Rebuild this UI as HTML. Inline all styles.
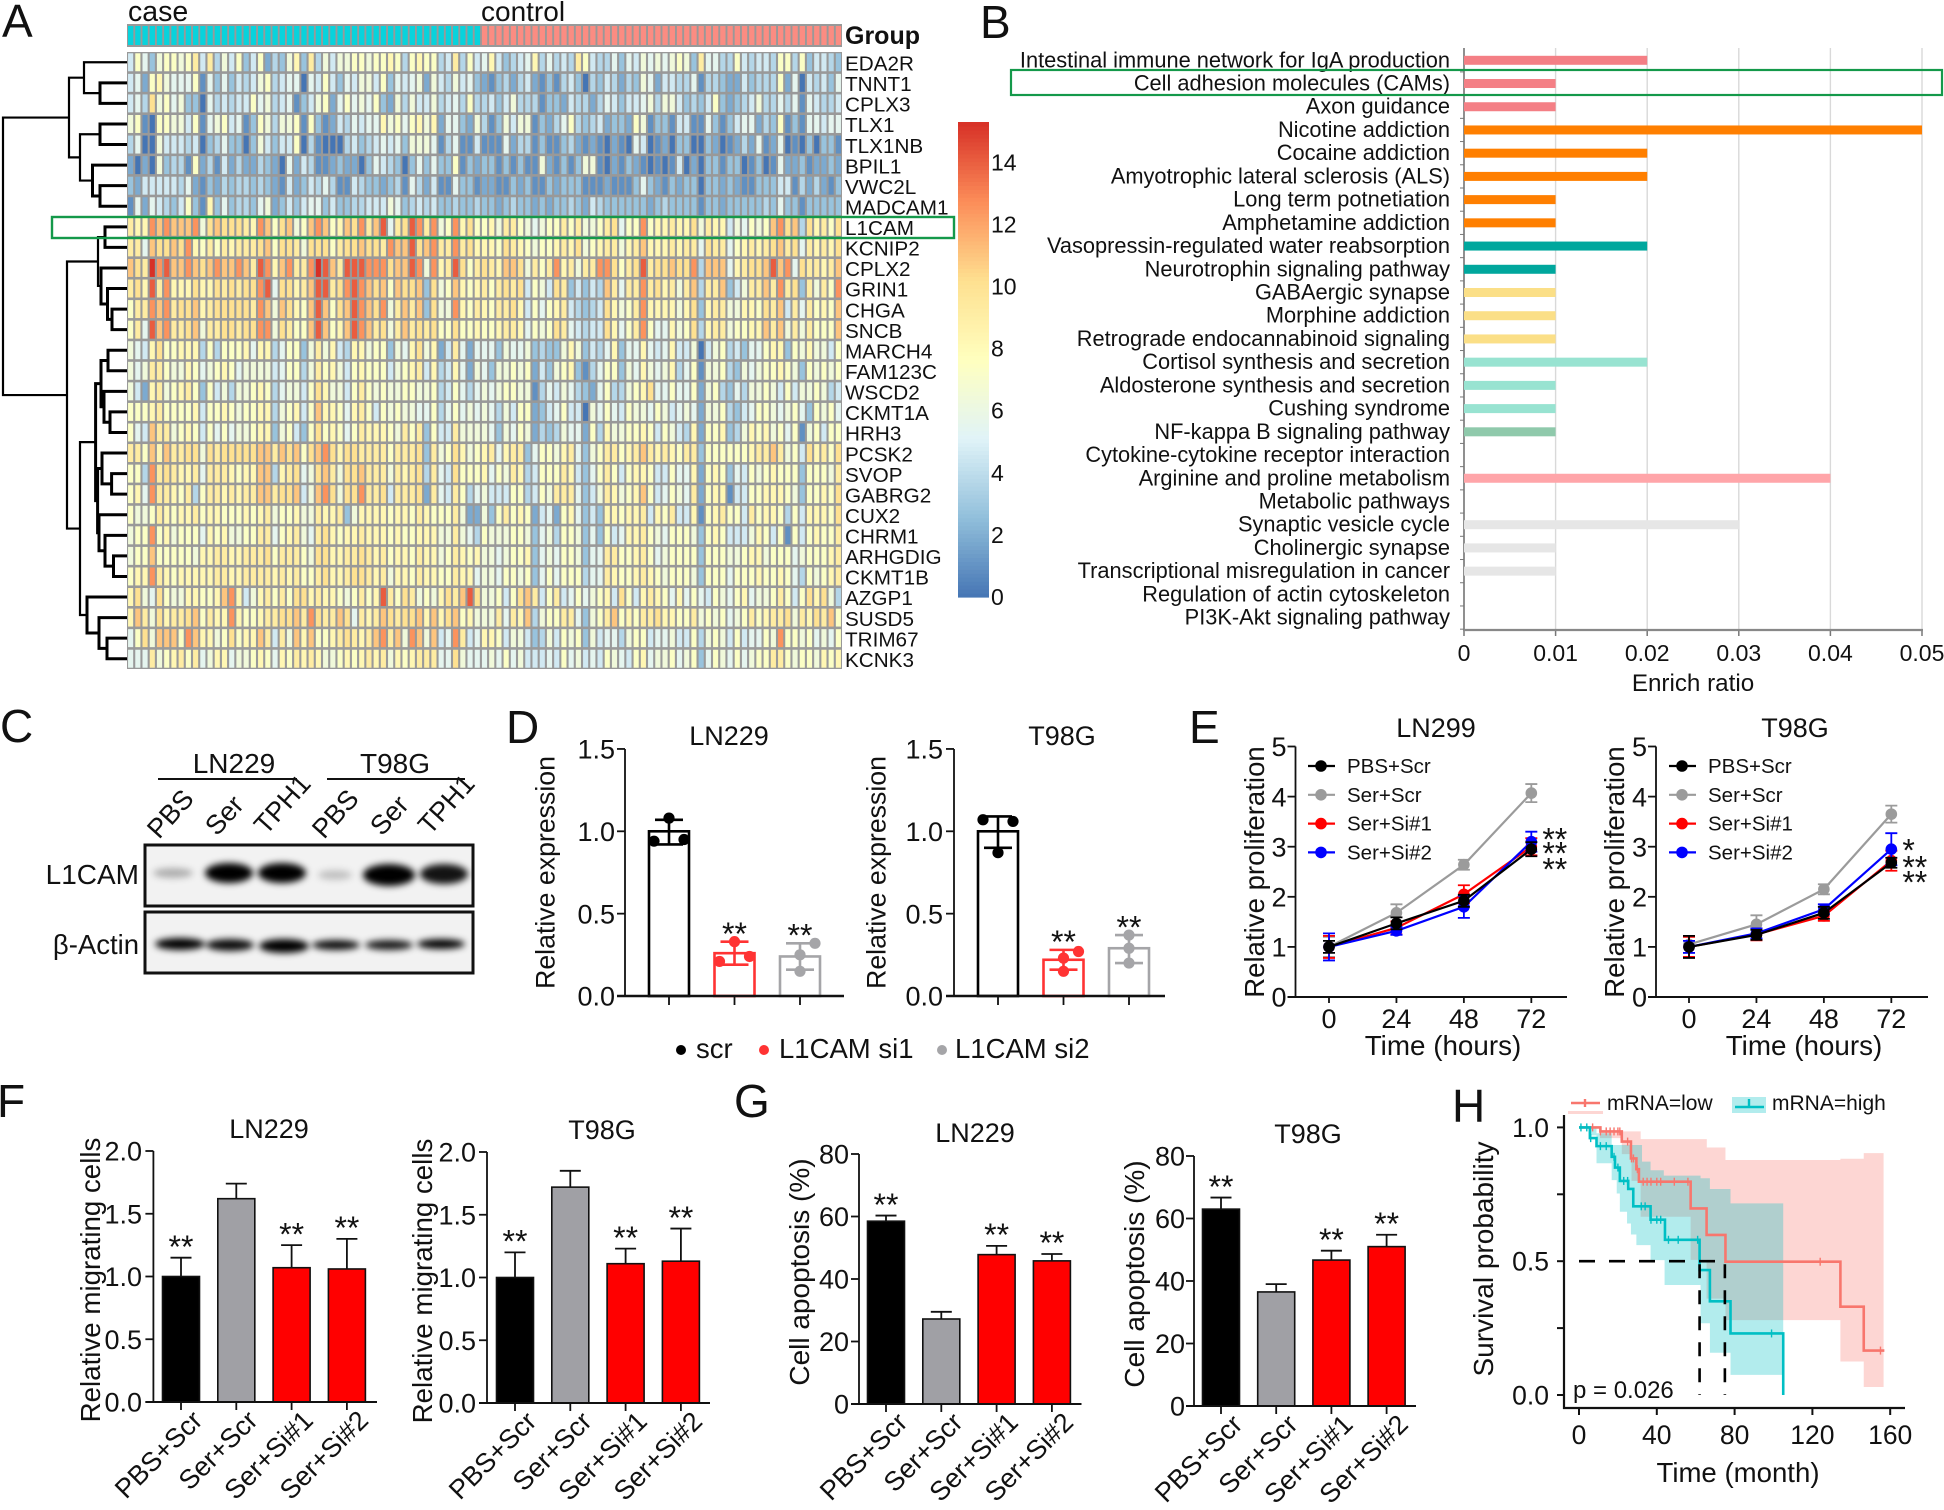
<!DOCTYPE html>
<html lang="en">
<head>
<meta charset="utf-8">
<title>L1CAM multi-panel figure</title>
<style>
html,body{margin:0;padding:0;background:#fff;}
svg{display:block;font-family:"Liberation Sans",sans-serif;}
</style>
</head>
<body>
<svg id="fig" xmlns="http://www.w3.org/2000/svg" width="1944" height="1510" viewBox="0 0 1944 1510">
  <defs>
    <filter id="band-blur" x="-40%" y="-80%" width="180%" height="260%"><feGaussianBlur stdDeviation="3.4"/></filter>
    <clipPath id="blot-clip-top"><rect x="145" y="845" width="328" height="61"/></clipPath>
    <clipPath id="blot-clip-bottom"><rect x="145" y="912" width="328" height="61"/></clipPath>
  </defs>
  <rect width="1944" height="1510" fill="#fff"/>

  <g font-size="46" fill="#111">
    <text x="2" y="37">A</text>
    <text x="980" y="38">B</text>
    <text x="0" y="742">C</text>
    <text x="506" y="743">D</text>
    <text x="1189" y="743">E</text>
    <text x="-3" y="1117">F</text>
    <text x="734" y="1117">G</text>
    <text x="1452" y="1122">H</text>
  </g>

  <g id="panel-a">
    <text x="128" y="21" font-size="28.5" fill="#111">case</text>
    <text x="481" y="21" font-size="28" fill="#111">control</text>
    <text x="845" y="44" font-size="25" font-weight="bold" fill="#111">Group</text>
  </g>
  <g id="panel-b"></g>

  <g id="panel-c">
    <text x="234" y="773" font-size="28" text-anchor="middle" fill="#111">LN229</text>
    <text x="395" y="773" font-size="28" text-anchor="middle" fill="#111">T98G</text>
    <line x1="158" x2="297" y1="779" y2="779" stroke="#111" stroke-width="2"/>
    <line x1="327" x2="465" y1="779" y2="779" stroke="#111" stroke-width="2"/>
    <g font-size="27" fill="#111">
      <text transform="translate(159,840) rotate(-48)">PBS</text>
      <text transform="translate(217,837) rotate(-48)">Ser</text>
      <text transform="translate(266,836) rotate(-48)">TPH1</text>
      <text transform="translate(324,840) rotate(-48)">PBS</text>
      <text transform="translate(382,837) rotate(-48)">Ser</text>
      <text transform="translate(430,836) rotate(-48)">TPH1</text>
    </g>
    <text x="139" y="884" font-size="28" text-anchor="end" fill="#111">L1CAM</text>
    <text x="139" y="954" font-size="27.5" text-anchor="end" fill="#111">β-Actin</text>
    <rect x="145" y="845" width="328" height="61" fill="#f2f2f2"/>
    <g clip-path="url(#blot-clip-top)" filter="url(#band-blur)" fill="#000">
      <ellipse cx="173" cy="873" rx="20" ry="5" opacity=".28"/>
      <ellipse cx="229" cy="873" rx="24" ry="10"/>
      <ellipse cx="282" cy="873" rx="24" ry="10"/>
      <ellipse cx="335" cy="875" rx="17" ry="5" opacity=".2"/>
      <ellipse cx="389" cy="875" rx="26" ry="11"/>
      <ellipse cx="444" cy="874" rx="24" ry="10" opacity=".92"/>
    </g>
    <rect x="145" y="845" width="328" height="61" fill="none" stroke="#111" stroke-width="3"/>
    <rect x="145" y="912" width="328" height="61" fill="#f2f2f2"/>
    <g clip-path="url(#blot-clip-bottom)" filter="url(#band-blur)" fill="#000">
      <ellipse cx="180" cy="944" rx="25" ry="6"/>
      <ellipse cx="230" cy="945" rx="24" ry="6" opacity=".95"/>
      <ellipse cx="284" cy="946" rx="25" ry="7"/>
      <ellipse cx="336" cy="945" rx="24" ry="5" opacity=".95"/>
      <ellipse cx="389" cy="945" rx="24" ry="5" opacity=".9"/>
      <ellipse cx="441" cy="944" rx="24" ry="5"/>
    </g>
    <rect x="145" y="912" width="328" height="61" fill="none" stroke="#111" stroke-width="3"/>
  </g>

  <g id="panel-d">
    <circle cx="681" cy="1050" r="5" fill="#000"/>
    <text x="696" y="1058" font-size="27.5" fill="#111">scr</text>
    <circle cx="764" cy="1050" r="5" fill="#f33"/>
    <text x="779" y="1058" font-size="27.5" fill="#111">L1CAM si1</text>
    <circle cx="942" cy="1050" r="5" fill="#a5a5a8"/>
    <text x="955" y="1058" font-size="27.5" fill="#111">L1CAM si2</text>
  </g>
  <g id="panel-e"></g>
  <g id="panel-f"></g>
  <g id="panel-g"></g>
  <g id="panel-h"></g>
</svg>

<script>
/* ---------- Panel A data ---------- */
const geneNames = ["EDA2R","TNNT1","CPLX3","TLX1","TLX1NB","BPIL1","VWC2L","MADCAM1","L1CAM","KCNIP2","CPLX2","GRIN1","CHGA","SNCB","MARCH4","FAM123C","WSCD2","CKMT1A","HRH3","PCSK2","SVOP","GABRG2","CUX2","CHRM1","ARHGDIG","CKMT1B","AZGP1","SUSD5","TRIM67","KCNK3"];
const caseCount = 49;
const controlCount = 50;
const colorbarTicks = [0,2,4,6,8,10,12,14];
const colorbarMax = 15.3;
/* one hex digit per sample: estimated expression level, 0 to 15 */
const expressionRows = [
"586378878a5a4758358243793a4757788 78898489884 5a485695345 69464 54a854 46365767678 73a66448545 54884835543",
"56289766681 63635457845 66065853657 75836567275 47563213424 52131453043 54243762554 46144322534 44826054536",
"564b7867330 64545586745 61357826867 68327475574 56484453574 44133254424 65355674775 34358323457 44646165445",
"78108877581 67856138747 78183125465 66978689792 66327413757 71324684345 23328713315 51163135662 43813166566",
"46007555450 34633037535 58041000453 45656377761 46115111624 41311342121 02106501203 30032012426 12601030331",
"20207344182 41524224320 62541123220 36543036363 38132331313 11721313771 02132101015 02033133013 01622312232",
"32555554621 32434434321 52354641154 33234164251 16331221132 31132333111 21113632132 33033232113 33551424213",
"16265435831 93634436723 53566353344 55576345453 34334332343 32323343254 33333323433 33133233333 43633133333",
"a99dcdcccd7 bcbbba9dc8b c78cdc89cbd ace6abedad7 8d9b8897aa8 76788a8a778 ab688d899a9 9b7a9957687 8cdbc4b9a8b",
"aa6cbbcbd98 a8a9aaabc8b ba7bbb8abbc bbadccebcda adab9998ba9 87889a9b789 aa79ac999a9 aa6baa689a9 abcab6a9a9b",
"cbafdeccdcb cdccdcaed9c daadfecaeee dddbcced7d9 aeb8aba9ccb 7a8ad9a7aad db8abeabbcb bd4ccc69abb cecd6baa9ac",
"ab9ead999b9 9bababbde6b b9aceeabded cbc8cbbc3b7 8c989a8abab 5875ba35354 ca6aadab9a7 ac4aac357aa cadab3a7a8d",
"8aadcdabbc9 abbbbbadc7c b98cec8bced cbd7acac3b7 7d98a98aab9 58689a54345 b978ad99997 9b39aa77998 bac5a6a898c",
"8a6ecdaabc7 aabbabbdd7b a88cec89ced cab7acabab8 8b889889aa9 6878ba65455 b968ad86697 8b49aa78899 cac7a7a888c",
"7659b889994 84888969946 8837a795499 7883769b792 5a626663766 73433797354 69366965695 57057845366 89938797758",
"767aa877986 78986777756 8847a897589 8885789a594 59627637787 82537893146 88376976794 68177843767 88987387878",
"7529a789a83 85747789846 7758b97758a 87877887784 58646767887 71465764326 844789b6686 68278436477 87585778745",
"8889a888895 88987889947 8958c99869a 85878776684 68676764758 82356855076 86587768756 76277843568 87678638786",
"865caa78985 86867789937 8538b89868a 99987a8a385 5a777763768 72434766284 97788985875 49288934798 97868178588",
"aa8c9caabb7 babbbbbccac bc8bcdb9bba aaa8aaab3a7 8b9789a69aa 368879a6378 aa89aca9a98 aa38888889a aca785b9a8b",
"884daba99a6 aaa9899cc49 ab67bca7bbc aaa7a9ab4a6 5b8889687a9 45888a95368 a8589985586 69289836587 8988838887a",
"896daa98a48 aa9a9aaccab bc57cdb7bbd aab5aaab2a6 5a846755588 4587aaa6357 a9789c85687 6a289915588 9998738898b",
"8778a9899a8 99888989a78 8977a99a379 9998998a988 8a722738a89 82562896353 99899a598a5 59189a885a8 9984859998b",
"788d8978886 9897788aa68 9a76ab9899a 99989889997 7a764877788 73674887363 85699a87688 87389855579 8581858988a",
"788c8888879 9aa99aaab8a aa87bb99aab a9a8998a997 8a989776788 93676887366 aa889a86788 88388877899 7888678889a",
"899da989999 9aa99aaaa9a 9a88ab99abb a9a7998a998 8a996776887 83686888466 a9889a98788 87388868889 8898648789a",
"9b76b877998 89cd9579a8a 8bb9a99878a 89ea8ba7879 baceb77858b ca58a568678 95b859a9869 68658768967 78a858b9b74",
"9ca7b9aabc8 a99d9889aab bcadbaacb6a 9acbabbc9c9 bc89777a6a9 c4788aa6378 ac898aab998 8a7878678a8 9aab7a9bac8",
"68b7ccc8dc9 978b899ca5a 7c9c889aba9 acdac7dc7c5 6da56998577 53475878375 66478856675 58478758566 87d88786768",
"666a789a8a6 79967789869 8a9a9778989 a9a7989aaa6 6b766676867 55565867565 87658967786 78368768678 8aa87887989"
];
/* dendrogram: [merge distance, left child, right child]; integers at leaves are gene rows */
const geneTree = [124,
  [58,[43,0,[27,1,2]],[47,[27,3,4],[34.5,5,[27,6,7]]]],
  [60,
    [29,[22,8,9],[26,10,[19.5,11,[15,12,13]]]],
    [47,
      [31.4,[26,[19,14,15],[23,16,[17,17,18]]],[29.4,[25,19,[15.4,20,21]],[28,22,[22,23,[13.5,24,25]]]]],
      [40,26,[28,27,[20,28,29]]]
    ]
  ]
];

/* ---------- Panel B data ---------- */
const pathwayNames = ["Intestinal immune network for IgA production","Cell adhesion molecules (CAMs)","Axon guidance","Nicotine addiction","Cocaine addiction","Amyotrophic lateral sclerosis (ALS)","Long term potnetiation","Amphetamine addiction","Vasopressin-regulated water reabsorption","Neurotrophin signaling pathway","GABAergic synapse","Morphine addiction","Retrograde endocannabinoid signaling","Cortisol synthesis and secretion","Aldosterone synthesis and secretion","Cushing syndrome","NF-kappa B signaling pathway","Cytokine-cytokine receptor interaction","Arginine and proline metabolism","Metabolic pathways","Synaptic vesicle cycle","Cholinergic synapse","Transcriptional misregulation in cancer","Regulation of actin cytoskeleton","PI3K-Akt signaling pathway"];
const enrichRatios = [0.02,0.01,0.01,0.05,0.02,0.02,0.01,0.01,0.02,0.01,0.01,0.01,0.01,0.02,0.01,0.01,0.01,0,0.04,0,0.03,0.01,0.01,0,0];
const pathwayGroups = [0,0,0,1,1,1,1,1,2,2,3,3,3,4,4,4,5,6,7,8,9,9,9,9,9];
const enrichTicks = [0,0.01,0.02,0.03,0.04,0.05];

/* ---------- Panel D data ---------- */
const knockdownGroups = ["scr","L1CAM si1","L1CAM si2"];
const expressionTicks = [0,0.5,1,1.5];
const ln229ExprMeans = [1.0,0.26,0.24];
const ln229ExprLow = [0.92,0.19,0.16];
const ln229ExprHigh = [1.07,0.33,0.32];
const ln229ExprPoints = [[1.08,0.94,0.95],[0.33,0.21,0.24],[0.25,0.32,0.15]];
const t98gExprMeans = [1.0,0.22,0.29];
const t98gExprLow = [0.9,0.16,0.2];
const t98gExprHigh = [1.09,0.28,0.37];
const t98gExprPoints = [[0.87,1.07,1.06],[0.23,0.15,0.27],[0.29,0.37,0.2]];

/* ---------- Panel E data ---------- */
const timeHours = [0,24,48,72];
const proliferationTicks = [0,1,2,3,4,5];
const treatmentNames = ["Ser+Scr","Ser+Si#1","Ser+Si#2","PBS+Scr"];
const legendOrder = ["PBS+Scr","Ser+Scr","Ser+Si#1","Ser+Si#2"];
const ln299Means = [[1.0,1.68,2.64,4.07],[1.0,1.38,2.05,3.0],[1.0,1.32,1.8,3.1],[1.0,1.47,1.92,2.95]];
const ln299Errors = [[0.2,0.17,0.1,0.18],[0.22,0.13,0.18,0.17],[0.27,0.08,0.22,0.2],[0.12,0.12,0.12,0.14]];
const t98gProlifMeans = [[1.05,1.45,2.15,3.65],[1.0,1.25,1.62,2.72],[1.0,1.27,1.75,2.95],[1.0,1.24,1.68,2.68]];
const t98gProlifErrors = [[0.17,0.18,0.1,0.17],[0.2,0.12,0.1,0.2],[0.12,0.1,0.1,0.32],[0.22,0.1,0.12,0.1]];
const ln299Stars = ["**","**","**"];
const ln299StarLevels = [3.29,3.01,2.69];
const t98gStars = ["*","**","**"];
const t98gStarLevels = [3.07,2.73,2.43];

/* ---------- Panels F and G data ---------- */
const treatmentCategories = ["PBS+Scr","Ser+Scr","Ser+Si#1","Ser+Si#2"];
const significance = ["**","","**","**"];
const migrationTicks = [0,0.5,1,1.5,2];
const ln229Migration = [1.0,1.62,1.07,1.06];
const ln229MigrationErr = [0.15,0.12,0.18,0.24];
const t98gMigration = [1.0,1.72,1.11,1.13];
const t98gMigrationErr = [0.2,0.13,0.12,0.26];
const apoptosisTicks = [0,20,40,60,80];
const ln229Apoptosis = [58.5,27.2,47.8,45.8];
const ln229ApoptosisErr = [1.8,2.3,2.8,2.2];
const t98gApoptosis = [63,36.5,46.7,51];
const t98gApoptosisErr = [3.7,2.5,3,3.8];

/* ---------- Panel H data ---------- */
const survTicksX = [0,40,80,120,160];
const survTicksY = [0,0.25,0.5,0.75,1];
const survLabelsY = ["0.0","","0.5","","1.0"];
const lowTimes = [0,11,22,26.7,29.5,30.8,57.4,65.6,75.3,134.4,146.4,157];
const lowSurv = [1,0.985,0.947,0.884,0.844,0.797,0.697,0.598,0.498,0.33,0.166,0.166];
const highTimes = [0,5.6,9,16.8,18.5,21,25.3,27.9,36.8,44.2,62,67.3,77.9,105,105];
const highSurv = [1,0.96,0.93,0.89,0.85,0.8,0.77,0.705,0.655,0.58,0.467,0.35,0.23,0.23,0];
const lowUpperTimes = [0,10.8,31.7,65.7,75.3,134.4,146.4,156.6];
const lowUpper = [1,0.985,0.956,0.925,0.878,0.883,0.904,0.904];
const lowLowerTimes = [0,10.8,22,27,31.7,57.4,65.6,75.3,134.4,146.4,156.6];
const lowLower = [1,0.96,0.9,0.8,0.666,0.505,0.36,0.28,0.125,0.03,0.03];
const highUpperTimes = [0,5.6,9,16.8,32.4,36.8,43.6,62.5,67.3,77.9,105];
const highUpper = [1,1,0.978,0.934,0.872,0.84,0.82,0.81,0.77,0.716,0.716];
const highLowerTimes = [0,5.6,9,16.8,19.4,21,24.7,26.7,29.5,36.8,44,62.5,67.3,77.9,105];
const highLower = [1,0.97,0.866,0.803,0.753,0.685,0.641,0.6,0.56,0.504,0.411,0.268,0.158,0.075,0.075];
const lowCensor = [7,11,14,16,18,20,21,25,27,28,30,33,35,37,40,42,49,56,124,155];
const highCensor = [1,4,6,11,14,18,20,23,25,32,34,37,40,42,46,51,61,99];
const medianTimes = [62,75];
const pValueText = "p = 0.026";

/* ---------- helpers ---------- */
const NS = "http://www.w3.org/2000/svg";
function mk(tag, attrs, parent){
  const n = document.createElementNS(NS, tag);
  for(const k in attrs){ n.setAttribute(k, attrs[k]); }
  parent.appendChild(n);
  return n;
}
function txt(parent, x, y, str, size, opts){
  const o = opts || {};
  const a = {x:x, y:y, "font-size":size, fill:o.fill || "#111"};
  if(o.anchor){ a["text-anchor"] = o.anchor; }
  if(o.rotate !== undefined){ a.transform = "rotate("+o.rotate+" "+x+" "+y+")"; }
  const n = mk("text", a, parent);
  n.textContent = str;
  return n;
}
function hexLerp(c1, c2, t){
  const p = c => [parseInt(c.slice(1,3),16),parseInt(c.slice(3,5),16),parseInt(c.slice(5,7),16)];
  const a = p(c1), b = p(c2);
  return "rgb("+a.map((v,i)=>Math.round(v+(b[i]-v)*t)).join(",")+")";
}
function heatColor(v){
  const stops = ["#4575B4","#91BFDB","#E0F3F8","#FFFFBF","#FEE090","#FC8D59","#D73027"];
  const s = Math.max(0, Math.min(0.9999, v/colorbarMax))*(stops.length-1);
  const i = Math.floor(s);
  return hexLerp(stops[i], stops[i+1], s-i);
}
function digitLevel(d){
  return d <= 12 ? d*0.92 : d*0.92 + (d-12)*0.6;
}

/* ---------- Panel A ---------- */
(function(){
  const g = document.getElementById("panel-a");
  const left = 127, colW = 715/(caseCount+controlCount), top = 52, rowH = 617/geneNames.length;
  const colX = i => left + i*colW;
  const rowY = j => top + j*rowH;
  const grey = "#999999";

  const groupBg = mk("rect",{x:left,y:24,width:715,height:23,fill:grey},g);
  
  
  for(let i=0;i<caseCount+controlCount;i++){
    const c = mk("rect",{x:colX(i)+1,y:26,width:colW-1.9,height:19,fill:i<caseCount?"#08d3dc":"#fb8c82"},g);
    
    
  }
  const heatBg = mk("rect",{x:left,y:top,width:715,height:617,fill:grey},g);
  
  
  expressionRows.forEach(function(rowStr, j){
    const vals = rowStr.replace(/\s+/g,"").split("").map(ch => parseInt(ch,16));
    vals.forEach(function(v, i){
      if(i >= caseCount+controlCount){ return; }
      const c = mk("rect",{x:colX(i)+1.05,y:rowY(j)+1.3,width:colW-2.1,height:rowH-2.6,fill:heatColor(digitLevel(v))},g);
      
      
    });
    const t = txt(g, 845, rowY(j)+rowH/2+8.2, geneNames[j], 20.7);
    
    
  });
  function treeX(d){ return left - d; }
  function drawNode(node, depth){
    if(typeof node === "number"){ return {x:left, y:rowY(node)+rowH/2}; }
    const a = drawNode(node[1], depth+1), b = drawNode(node[2], depth+1);
    const x = treeX(node[0]);
    const p = mk("path",{d:"M"+a.x+" "+a.y+"H"+x+"V"+b.y+"H"+b.x,fill:"none",stroke:"#000","stroke-width":depth<3?2.2:3},g);
    
    
    return {x:x, y:(a.y+b.y)/2};
  }
  drawNode(geneTree, 0);

  const boxA = mk("rect",{x:52,y:217,width:902,height:21,fill:"none",stroke:"#14994a","stroke-width":2.4},g);
  
  

  /* colorbar */
  const cbTop = 122, cbBottom = 597, cbLeft = 958, cbW = 31;
  const cbY = v => cbBottom - v/colorbarMax*(cbBottom-cbTop);
  for(let k=0;k<120;k++){
    const v0 = colorbarMax*k/120, v1 = colorbarMax*(k+1)/120;
    const s = mk("rect",{x:cbLeft,y:cbY(v1),width:cbW,height:cbY(v0)-cbY(v1)+0.6,fill:heatColor((v0+v1)/2)},g);
    
    
  }
  colorbarTicks.forEach(function(v){
    const t = txt(g, 991, cbY(v)+8, String(v), 23);
    
    
  });
})();

/* ---------- Panel B ---------- */
(function(){
  const g = document.getElementById("panel-b");
  const palette = ["#f47f85","#ff7f00","#00a79d","#fbdf87","#98e3d1","#8fc9ab","#ffffff","#ffa5a9","#ffffff","#e6e6e6"];
  const x = v => 1464 + v/0.05*458;
  const y = i => 60.3 + i*23.22;
  enrichTicks.forEach(function(v){
    const l = mk("line",{x1:x(v),x2:x(v),y1:48,y2:630,stroke:"#d9d9d9","stroke-width":1.4},g);
    
    
    const tk = mk("line",{x1:x(v),x2:x(v),y1:630,y2:636,stroke:"#777","stroke-width":1.5},g);
    
    
    const t = txt(g, x(v), 661, String(v), 23, {anchor:"middle"});
    
    
  });
  const ax = mk("line",{x1:1464,x2:1464,y1:48,y2:630,stroke:"#777","stroke-width":1.6},g);
  
  
  const bx = mk("line",{x1:1463,x2:1923,y1:630,y2:630,stroke:"#888","stroke-width":2.2},g);
  
  
  pathwayNames.forEach(function(name, i){
    const t = txt(g, 1450, y(i)+7, name, 21.8, {anchor:"end"});
    
    
    const tk = mk("line",{x1:1460,x2:1464,y1:y(i)+11.6,y2:y(i)+11.6,stroke:"#777","stroke-width":1},g);
    
    
    if(enrichRatios[i] > 0){
      const b = mk("rect",{x:x(0),y:y(i)-4.5,width:x(enrichRatios[i])-x(0),height:9,fill:palette[pathwayGroups[i]]},g);
      
      
    }
  });
  const title = txt(g, 1693, 691, "Enrich ratio", 24.2, {anchor:"middle"});
  
  
  const box = mk("rect",{x:1011,y:70,width:931,height:25,fill:"none",stroke:"#14994a","stroke-width":2.2},g);
  
  
})();

/* ---------- shared axis drawing ---------- */
function leftAxis(g, axisX, yFn, ticks, labelFn, labelRight, size, top){
  const a = mk("line",{x1:axisX,x2:axisX,y1:top,y2:yFn(ticks[0])+1,stroke:"#111","stroke-width":1.8},g);
  
  
  ticks.forEach(function(v){
    const k = mk("line",{x1:axisX-8,x2:axisX,y1:yFn(v),y2:yFn(v),stroke:"#111","stroke-width":1.8},g);
    
    
    const t = txt(g, labelRight, yFn(v)+size*0.36, labelFn(v), size, {anchor:"end"});
    
    
  });
}
function yTitle(g, cx, cy, str, size){
  const t = txt(g, cx+size*0.36, cy, str, size, {anchor:"middle", rotate:-90});
  
  
}
function chartTitle(g, cx, y, str){
  const t = txt(g, cx, y, str, 27, {anchor:"middle"});
  
  
}
function stars(g, x, cy, str, anchor){
  const size = 32;
  const t = txt(g, x, cy+size*0.57, str, size, {anchor:anchor||"middle"});
  
  
}

/* ---------- Panel D ---------- */
function drawExpression(cfg){
  const g = document.getElementById("panel-d");
  const y = v => cfg.y0 - v*164.7;
  const x = i => cfg.first + i*cfg.step;
  const colors = ["#000","#f33","#a5a5a8"];
  leftAxis(g, cfg.axisX, y, expressionTicks, v => v.toFixed(1), cfg.labelRight, 27, y(1.5));
  yTitle(g, cfg.titleX, (y(0)+y(1.5))/2, "Relative expression", 26.7);
  chartTitle(g, cfg.titleCx, 745, cfg.title);
  cfg.means.forEach(function(m, i){
    const b = mk("rect",{x:x(i)-20,y:y(m),width:40,height:y(0)-y(m),fill:"#fff",stroke:colors[i],"stroke-width":2.6},g);
    
    
    const e = mk("path",{d:"M"+x(i)+" "+y(cfg.low[i])+"V"+y(cfg.high[i])+"M"+(x(i)-14)+" "+y(cfg.high[i])+"h28M"+(x(i)-14)+" "+y(cfg.low[i])+"h28",fill:"none",stroke:colors[i],"stroke-width":2.6},g);
    
    
    cfg.points[i].forEach(function(p, k){
      const c = mk("circle",{cx:x(i)+cfg.jitter[i][k]*15,cy:y(p),r:5.6,fill:colors[i]},g);
      
      
    });
    const k = mk("line",{x1:x(i),x2:x(i),y1:y(0),y2:y(0)+9,stroke:"#111","stroke-width":1.8},g);
    
    
    if(i>0){ stars(g, x(i), y(cfg.high[i])-15, "**"); }
  });
  const base = mk("line",{x1:cfg.axisX-8,x2:cfg.baseEnd,y1:y(0),y2:y(0),stroke:"#111","stroke-width":2.6},g);
  
  
}
drawExpression({y0:996,first:669,step:65.5,axisX:625,labelRight:615,titleX:545,titleCx:729,title:"LN229",baseEnd:844,means:ln229ExprMeans,low:ln229ExprLow,high:ln229ExprHigh,points:ln229ExprPoints,jitter:[[0,-1,1],[0,-1,1],[0,1,0]]});
drawExpression({y0:996,first:998,step:65.5,axisX:954,labelRight:943,titleX:876,titleCx:1062,title:"T98G",baseEnd:1165,means:t98gExprMeans,low:t98gExprLow,high:t98gExprHigh,points:t98gExprPoints,jitter:[[0,-1,1],[0,0,1],[0,0,0]]});

/* ---------- Panel E ---------- */
function drawProliferation(cfg){
  const g = document.getElementById("panel-e");
  const y = v => 997 - v*50.1;
  const x = h => cfg.x0 + h*2.81;
  const colors = {"Ser+Scr":"#9b9b9b","Ser+Si#1":"#ff0000","Ser+Si#2":"#0000ff","PBS+Scr":"#000000"};
  leftAxis(g, cfg.axisX, y, proliferationTicks, v => String(v), cfg.axisX-9, 27, y(5));
  yTitle(g, cfg.titleX, 872, "Relative proliferation", 27.6);
  chartTitle(g, cfg.titleCx, 737, cfg.title);
  const base = mk("line",{x1:cfg.axisX-8,x2:cfg.baseEnd,y1:y(0),y2:y(0),stroke:"#111","stroke-width":2},g);
  
  
  timeHours.forEach(function(h){
    const k = mk("line",{x1:x(h),x2:x(h),y1:y(0),y2:y(0)+6,stroke:"#111","stroke-width":1.8},g);
    
    
    const t = txt(g, x(h), 1028, String(h), 27, {anchor:"middle"});
    
    
  });
  const xt = txt(g, cfg.xTitleCx, 1055, "Time (hours)", 27.8, {anchor:"middle"});
  
  
  treatmentNames.forEach(function(name, s){
    const col = colors[name];
    const d = timeHours.map((h,i) => (i?"L":"M")+x(h)+" "+y(cfg.means[s][i])).join("");
    const line = mk("path",{d:d,fill:"none",stroke:col,"stroke-width":2.2},g);
    
    
    timeHours.forEach(function(h, i){
      const hi = y(cfg.means[s][i]+cfg.errors[s][i]), lo = y(cfg.means[s][i]-cfg.errors[s][i]);
      const e = mk("path",{d:"M"+x(h)+" "+hi+"V"+lo+"M"+(x(h)-6)+" "+hi+"h12M"+(x(h)-6)+" "+lo+"h12",fill:"none",stroke:col,"stroke-width":1.8},g);
      
      
      const c = mk("circle",{cx:x(h),cy:y(cfg.means[s][i]),r:5.8,fill:col},g);
      
      
    });
  });
  cfg.stars.forEach(function(st, i){ stars(g, x(72)+11, y(cfg.starLevels[i]), st, "start"); });
  legendOrder.forEach(function(name, i){
    const ly = cfg.legendY + i*28.8;
    const l = mk("line",{x1:cfg.legendX-13,x2:cfg.legendX+14,y1:ly,y2:ly,stroke:colors[name],"stroke-width":2.2},g);
    
    
    const c = mk("circle",{cx:cfg.legendX,cy:ly,r:5.8,fill:colors[name]},g);
    
    
    const t = txt(g, cfg.legendX+26, ly+7, name, 20.5);
    
    
  });
}
drawProliferation({x0:1329,axisX:1295.5,baseEnd:1567,titleX:1254,titleCx:1436,title:"LN299",xTitleCx:1443,means:ln299Means,errors:ln299Errors,stars:ln299Stars,starLevels:ln299StarLevels,legendX:1321,legendY:766});
drawProliferation({x0:1689,axisX:1656,baseEnd:1928,titleX:1614,titleCx:1795,title:"T98G",xTitleCx:1804,means:t98gProlifMeans,errors:t98gProlifErrors,stars:t98gStars,starLevels:t98gStarLevels,legendX:1682,legendY:766});

/* ---------- Panels F and G ---------- */
function drawBars(g, cfg){
  const y = v => cfg.y0 - v*cfg.k;
  const x = i => cfg.first + i*cfg.step;
  const fills = ["#000000","#a0a0a5","#ff0000","#ff0000"];
  leftAxis(g, cfg.axisX, y, cfg.ticks, cfg.fmt, cfg.labelRight, 27, y(cfg.ticks[cfg.ticks.length-1]));
  yTitle(g, cfg.titleX, cfg.titleCy, cfg.yLabel, cfg.yLabelSize);
  chartTitle(g, cfg.titleCx, cfg.titleY, cfg.title);
  cfg.values.forEach(function(v, i){
    const top = y(v+cfg.errs[i]);
    const e = mk("path",{d:"M"+x(i)+" "+y(v)+"V"+top+"M"+(x(i)-10.5)+" "+top+"h21",fill:"none",stroke:"#111","stroke-width":1.8},g);
    
    
    const b = mk("rect",{x:x(i)-18.5,y:y(v),width:37,height:y(0)-y(v),fill:fills[i],stroke:"#111","stroke-width":1.6},g);
    
    
    const k = mk("line",{x1:x(i),x2:x(i),y1:y(0),y2:y(0)+8,stroke:"#111","stroke-width":1.8},g);
    
    
    const t = txt(g, x(i)+23, y(0)+20, treatmentCategories[i], 27, {anchor:"end", rotate:-45});
    
    
    if(significance[i]){ stars(g, x(i), top-18, significance[i]); }
  });
  const base = mk("line",{x1:cfg.axisX-8,x2:cfg.baseEnd,y1:y(0),y2:y(0),stroke:"#111","stroke-width":2},g);
  
  
}
const panelF = document.getElementById("panel-f");
const panelG = document.getElementById("panel-g");
drawBars(panelF,{y0:1402,k:125.5,first:181,step:55.3,axisX:153.4,labelRight:142,titleX:90,titleCy:1280,yLabel:"Relative migrating cells",yLabelSize:27.7,titleCx:269,titleY:1138,title:"LN229",baseEnd:377,ticks:migrationTicks,fmt:v=>v.toFixed(1),values:ln229Migration,errs:ln229MigrationErr});
drawBars(panelF,{y0:1403,k:125.5,first:515,step:55.3,axisX:487,labelRight:476,titleX:422,titleCy:1281,yLabel:"Relative migrating cells",yLabelSize:27.7,titleCx:602,titleY:1139,title:"T98G",baseEnd:710,ticks:migrationTicks,fmt:v=>v.toFixed(1),values:t98gMigration,errs:t98gMigrationErr});
drawBars(panelG,{y0:1404,k:3.125,first:886,step:55.3,axisX:859,labelRight:849,titleX:799,titleCy:1272,yLabel:"Cell apoptosis (%)",yLabelSize:28,titleCx:975,titleY:1142,title:"LN229",baseEnd:1081.5,ticks:apoptosisTicks,fmt:v=>String(v),values:ln229Apoptosis,errs:ln229ApoptosisErr});
drawBars(panelG,{y0:1406,k:3.125,first:1221,step:55.2,axisX:1194,labelRight:1185,titleX:1134,titleCy:1274,yLabel:"Cell apoptosis (%)",yLabelSize:28,titleCx:1308,titleY:1143,title:"T98G",baseEnd:1416,ticks:apoptosisTicks,fmt:v=>String(v),values:t98gApoptosis,errs:t98gApoptosisErr});

/* ---------- Panel H ---------- */
(function(){
  const g = document.getElementById("panel-h");
  const x = t => 1579 + t*1.945;
  const y = s => 1395 - s*267.6;
  const red = "#f8766d", teal = "#00bfc4";
  function stepPath(ts, ss){
    let d = "M"+x(ts[0])+" "+y(ss[0]);
    for(let i=1;i<ts.length;i++){ d += "H"+x(ts[i])+"V"+y(ss[i]); }
    return d;
  }
  function bandPath(ut, us, lt, ls){
    const n = lt.length-1;
    let d = stepPath(ut, us) + "L"+x(lt[n])+" "+y(ls[n]);
    for(let i=n;i>0;i--){ d += "V"+y(ls[i-1])+"H"+x(lt[i-1]); }
    return d+"Z";
  }
  const lb = mk("path",{d:bandPath(lowUpperTimes,lowUpper,lowLowerTimes,lowLower),fill:red,"fill-opacity":0.3},g);
  
  
  const hb = mk("path",{d:bandPath(highUpperTimes,highUpper,highLowerTimes,highLower),fill:teal,"fill-opacity":0.3},g);
  
  

  function stepValue(ts, ss, t){
    let v = ss[0];
    for(let i=0;i<ts.length;i++){ if(ts[i] <= t){ v = ss[i]; } }
    return v;
  }
  const lowLine = mk("path",{d:stepPath(lowTimes,lowSurv),fill:"none",stroke:red,"stroke-width":2.6},g);
  
  
  const highLine = mk("path",{d:stepPath(highTimes,highSurv),fill:"none",stroke:teal,"stroke-width":2.6},g);
  
  
  lowCensor.forEach(function(t){
    const c = mk("line",{x1:x(t),x2:x(t),y1:y(stepValue(lowTimes,lowSurv,t))-4,y2:y(stepValue(lowTimes,lowSurv,t))+4,stroke:red,"stroke-width":1.4},g);
    
    
  });
  highCensor.forEach(function(t){
    const c = mk("line",{x1:x(t),x2:x(t),y1:y(stepValue(highTimes,highSurv,t))-4,y2:y(stepValue(highTimes,highSurv,t))+4,stroke:teal,"stroke-width":1.4},g);
    
    
  });

  const mh = mk("path",{d:"M"+x(0)+" "+y(0.5)+"H"+x(medianTimes[1]),fill:"none",stroke:"#000","stroke-width":2.6,"stroke-dasharray":"16 14"},g);
  
  
  medianTimes.forEach(function(t){
    const mv = mk("line",{x1:x(t),x2:x(t),y1:y(0.5),y2:y(0),stroke:"#000","stroke-width":2.6,"stroke-dasharray":"14 12","stroke-dashoffset":"-3"},g);
    
    
  });

  const ya = mk("line",{x1:1564,x2:1564,y1:1115,y2:1409,stroke:"#111","stroke-width":2.2},g);
  
  
  const xa = mk("line",{x1:1563,x2:1905,y1:1408,y2:1408,stroke:"#111","stroke-width":2.2},g);
  
  
  survTicksY.forEach(function(v, i){
    const k = mk("line",{x1:1557,x2:1564,y1:y(v),y2:y(v),stroke:"#111","stroke-width":2},g);
    
    
    if(survLabelsY[i]){
      const t = txt(g, 1549, y(v)+9.5, survLabelsY[i], 26.5, {anchor:"end"});
      
      
    }
  });
  survTicksX.forEach(function(v){
    const k = mk("line",{x1:x(v),x2:x(v),y1:1408,y2:1415,stroke:"#111","stroke-width":2},g);
    
    
    const t = txt(g, x(v), 1444, String(v), 26.5, {anchor:"middle"});
    
    
  });
  const xTitle = txt(g, 1738, 1482, "Time (month)", 27.6, {anchor:"middle"});
  
  
  yTitle(g, 1483, 1259, "Survival probability", 28);
  const pv = txt(g, 1573, 1398, pValueText, 24);
  
  

  const lr = mk("rect",{x:1568,y:1111,width:35,height:3,fill:red,"fill-opacity":0.3},g);
  
  
  const ll = mk("path",{d:"M1571 1103H1600M1585 1099V1107",stroke:red,"stroke-width":2.4,fill:"none"},g);
  
  
  const lt = txt(g, 1607, 1110, "mRNA=low", 21);
  
  
  const hr = mk("rect",{x:1732,y:1097,width:34,height:16,fill:teal,"fill-opacity":0.3},g);
  
  
  const hl = mk("path",{d:"M1735 1107H1764M1749 1099V1107",stroke:teal,"stroke-width":2.4,fill:"none"},g);
  
  
  const ht = txt(g, 1772, 1110, "mRNA=high", 21);
  
  
})();
</script>
</body>
</html>
